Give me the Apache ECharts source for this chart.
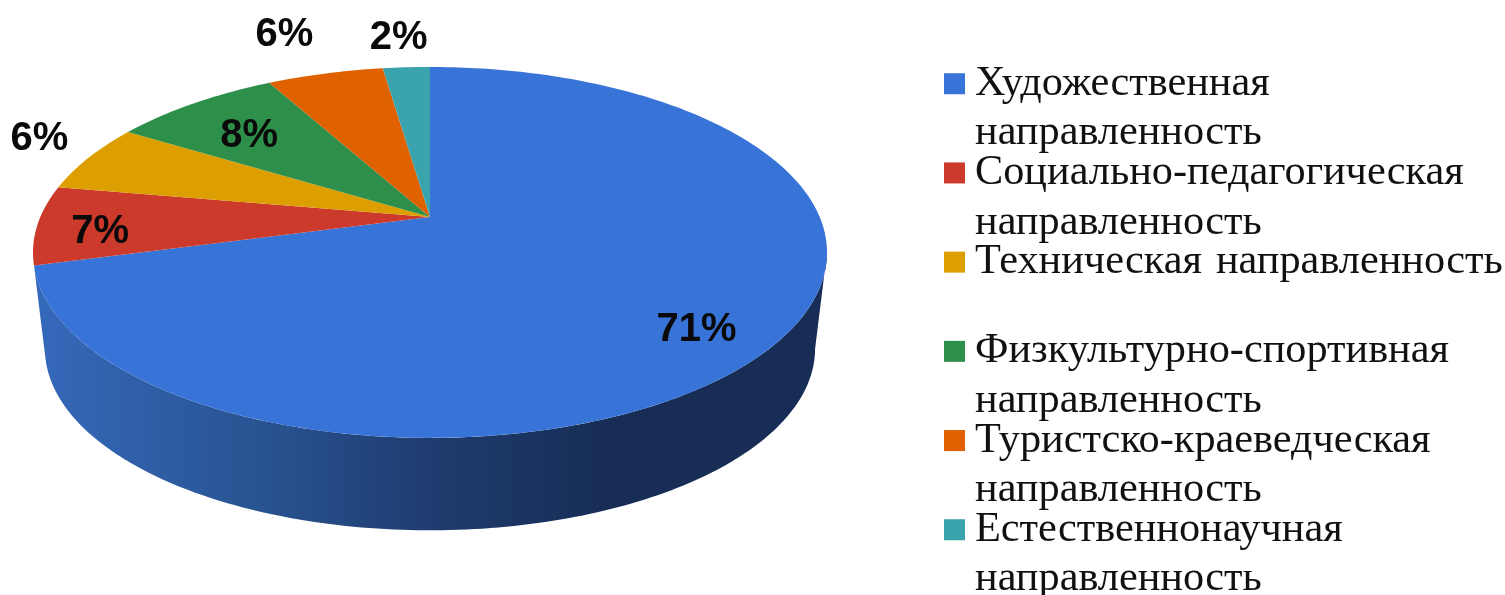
<!DOCTYPE html>
<html>
<head>
<meta charset="utf-8">
<style>
  html, body { margin: 0; padding: 0; background: #fff; }
  #chart { width: 1505px; height: 595px; }
</style>
</head>
<body>
<div id="chart"></div>
<script src="https://cdn.jsdelivr.net/npm/echarts@6/dist/echarts.min.js"></script>
<script>
const categories = [
  "Художественная\nнаправленность",
  "Социально-педагогическая\nнаправленность",
  "Техническая \u200aнаправленность",
  "Физкультурно-спортивная\nнаправленность",
  "Туристско-краеведческая\nнаправленность",
  "Естественнонаучная\nнаправленность"
];
const values = [70.85, 6.9, 6, 8.25, 5.7, 2.3];
const colors = ["#3874d7", "#cc3a2b", "#dd9f00", "#2e8f4a", "#e06100", "#3ba3ad"];

// label place: radius in pie units, and shift from the middle of the slice in degrees
const labelRadius = [0.826, 0.838, 1.201, 0.72, 1.363, 1.26];
const labelShift = [4.7, -2.4, 3.4, -1.35, -1.4, -0.4];

// tilted disc, the apex sits above the middle of the ellipse because of perspective
const apex = { x: 430, y: 217 };
const persp = -0.191;
const top3d = { cy: 217, rx: 389.7, ry: 178.7 };
const bottom3d = { cy: 314, rx: 378, ry: 175 };
// only the front of the rim can be seen, silhouette is at these angles
const rimFrom = 101;
const rimTo = 259;

const total = values.reduce((a, b) => a + b, 0);

const project = (disc, deg, r) => {
  const a = (deg * Math.PI) / 180;
  const x = r * Math.sin(a);
  const y = -r * Math.cos(a);
  const w = 1 + persp * y;
  return [apex.x + (disc.rx * x) / w, disc.cy + (disc.ry * y) / w];
};

const arc = (disc, from, to) => {
  const pts = [];
  const steps = Math.max(2, Math.ceil(Math.abs(to - from)));
  for (let i = 0; i <= steps; i++) {
    pts.push(project(disc, from + ((to - from) * i) / steps, 1));
  }
  return pts;
};

const renderSlice = (index) => (params, api) => {
  const before = values.slice(0, index).reduce((a, b) => a + b, 0);
  const start = (before / total) * 360;
  const end = ((before + api.value(0)) / total) * 360;
  const children = [];

  // rim, only for the slice that holds the front of the pie
  if (start < 180 && end > 180) {
    const from = Math.max(start, rimFrom);
    const to = Math.min(end, rimTo);
    children.push({
      type: "polygon",
      z2: 1,
      shape: { points: arc(top3d, from, to).concat(arc(bottom3d, from, to).reverse()) },
      style: {
        fill: new echarts.graphic.LinearGradient(0, 0, 1, 0, [
          { offset: 0, color: "#3569bb" },
          { offset: 0.3, color: "#28528f" },
          { offset: 0.5, color: "#1f3c70" },
          { offset: 0.72, color: "#172d55" },
          { offset: 1, color: "#172d55" }
        ])
      }
    });
  }

  children.push({
    type: "polygon",
    z2: 10,
    shape: { points: [[apex.x, apex.y]].concat(arc(top3d, start, end)) },
    style: { fill: colors[index] }
  });

  const mid = (start + end) / 2 + labelShift[index];
  const pos = project(top3d, mid, labelRadius[index]);
  children.push({
    type: "text",
    z2: 20,
    x: pos[0],
    y: pos[1] + 2,
    style: {
      text: Math.round((api.value(0) / total) * 100) + "%",
      font: 'bold 40px "Liberation Sans"',
      fill: "#0a0a0a",
      align: "center",
      verticalAlign: "middle"
    }
  });

  return { type: "group", children };
};

const chart = echarts.init(document.getElementById("chart"));
chart.setOption({
  backgroundColor: "#fff",
  animation: false,
  legend: {
    orient: "vertical",
    left: 944,
    top: 8,
    height: 1000,
    padding: 0,
    itemWidth: 21,
    itemHeight: 21,
    itemGap: -62.3,
    icon: "rect",
    selectedMode: false,
    // blank first line keeps the square level with the first text line
    formatter: (name) => "\n" + name + (name.includes("\n") ? "" : "\n "),
    textStyle: {
      fontFamily: "Liberation Serif",
      fontSize: 42.3,
      lineHeight: 49.5,
      color: "#111",
      padding: [3, 0, 0, 5]
    },
    data: categories
  },
  series: categories.map((name, i) => ({
    type: "custom",
    name,
    coordinateSystem: "none",
    itemStyle: { color: colors[i] },
    renderItem: renderSlice(i),
    data: [[values[i]]]
  }))
});
</script>
</body>
</html>
